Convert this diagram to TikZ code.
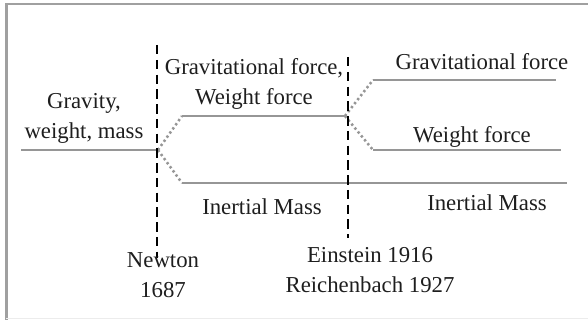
\documentclass[tikz,border=0pt]{standalone}
\usepackage{fontspec}
\setmainfont{Liberation Serif}
\usepackage{xcolor}
\usepackage{tikz}
\definecolor{branchgray}{RGB}{150,150,150}
\definecolor{framegray}{RGB}{160,160,160}
\definecolor{textdark}{RGB}{30,30,30}

\begin{document}
\begin{tikzpicture}[
    every node/.style={font=\fontsize{10.8}{14.2}\selectfont, text=textdark, align=center, inner sep=1pt},
    branch/.style={line width=1.2pt, branchgray},
    split/.style={line width=1.2pt, branchgray, dash pattern=on 1.1pt off 1.3pt},
    epoch/.style={line width=0.7pt, black, dash pattern=on 4.5pt off 2.5pt},
]
    \useasboundingbox (0,0) rectangle (9.8,5.333);
    % Frame
    \draw[line width=1pt, framegray] (0.108,0) -- (0.108,5.267) -- (9.8,5.267);
    \draw[line width=0.4pt, gray!15] (0.108,0.02) -- (9.8,0.02);

    % Branch points
    \coordinate (start) at (0.35,2.833);
    \coordinate (newton) at (2.633,2.833);
    \coordinate (midup) at (3.033,3.4);
    \coordinate (midlow) at (3.033,2.283);
    \coordinate (einstein) at (5.75,3.4);
    \coordinate (rightup) at (6.217,4.0);
    \coordinate (rightmid) at (6.217,2.833);
    \coordinate (endup) at (9.267,4.0);
    \coordinate (endmid) at (9.35,2.833);
    \coordinate (endlow) at (9.45,2.283);

    % Lines
    \draw[branch] (start) -- (newton);
    \draw[split] (newton) -- (midup);
    \draw[split] (newton) -- (midlow);
    \draw[branch] (midup) -- (einstein);
    \draw[branch] (midlow) -- (endlow);
    \draw[split] (einstein) -- (rightup);
    \draw[split] (einstein) -- (rightmid);
    \draw[branch] (rightup) -- (endup);
    \draw[branch] (rightmid) -- (endmid);

    % Epochs
    \coordinate (newtontop) at (2.617,4.583);
    \coordinate (newtonbot) at (2.617,1.033);
    \coordinate (einsteintop) at (5.8,4.383);
    \coordinate (einsteinbot) at (5.8,1.367);
    \draw[epoch] (newtontop) -- (newtonbot);
    \draw[epoch] (einsteintop) -- (einsteinbot);

    % Labels
    \node (gravity) at (1.4,3.367) {Gravity,\\weight, mass};
    \node (gravweight) at (4.233,3.933) {Gravitational force,\\Weight force};
    \node (inertleft) at (4.367,1.883) {Inertial Mass};
    \node (gravright) at (8.033,4.3) {Gravitational force};
    \node (weightright) at (7.867,3.05) {Weight force};
    \node (inertright) at (8.117,1.95) {Inertial Mass};
    \node (newtonlbl) at (2.717,0.75) {Newton\\1687};
    \node (einsteinlbl) at (6.167,0.833) {Einstein 1916\\Reichenbach 1927};
\end{tikzpicture}
\end{document}
